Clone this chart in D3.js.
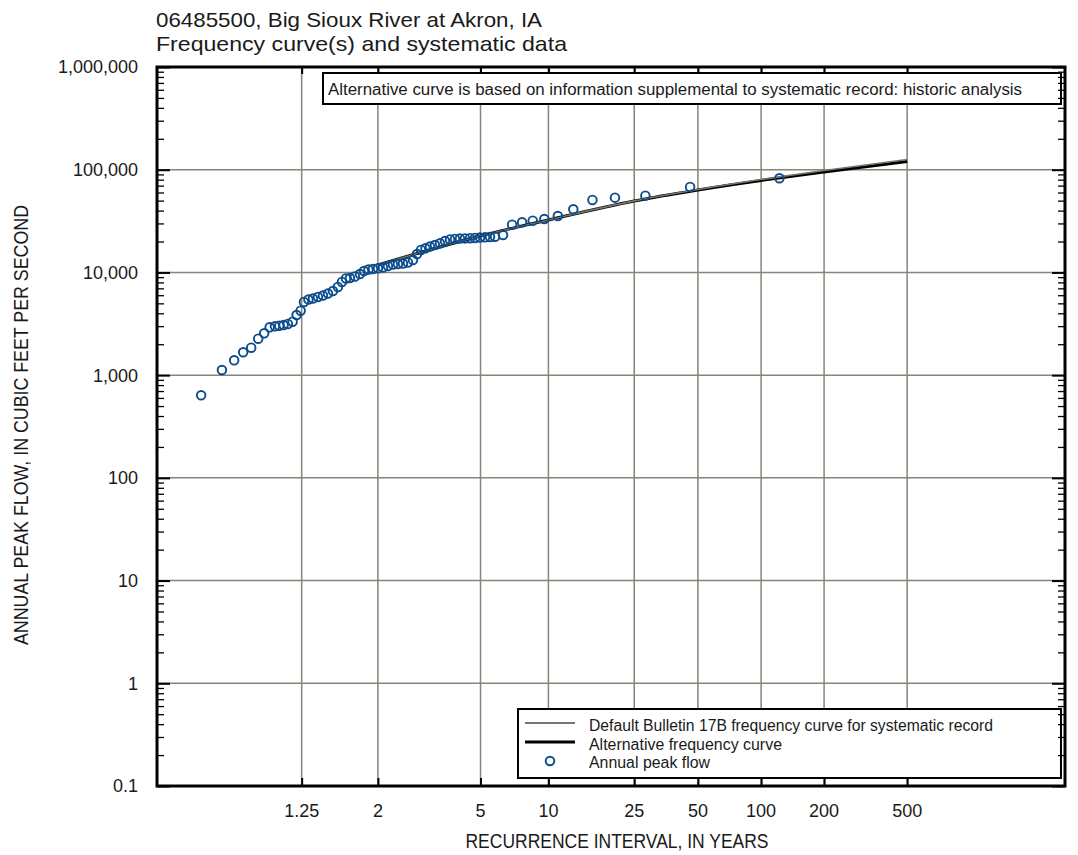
<!DOCTYPE html>
<html>
<head>
<meta charset="utf-8">
<script src="https://cdn.jsdelivr.net/npm/d3@7"></script>
<style>
  html, body { margin: 0; padding: 0; background: #ffffff; }
  svg text { font-family: "Liberation Sans Narrow", "Liberation Sans", Arial, sans-serif; fill: #1a1a1a; }
</style>
</head>
<body>
<script>
// ---------------- DATA ----------------
const titleLines = ["06485500, Big Sioux River at Akron, IA", "Frequency curve(s) and systematic data"];
const noteText = "Alternative curve is based on information supplemental to systematic record: historic analysis";
const xAxisTitle = "RECURRENCE INTERVAL, IN YEARS";
const yAxisTitle = "ANNUAL PEAK FLOW, IN CUBIC FEET PER SECOND";

// x axis ticks (recurrence interval, years)
const xTickValues = [1.25, 2, 5, 10, 25, 50, 100, 200, 500];
const xTickLabels = ["1.25", "2", "5", "10", "25", "50", "100", "200", "500"];
// y axis ticks (cubic feet per second)
const yTickValues = [0.1, 1, 10, 100, 1000, 10000, 100000, 1000000];
const yTickLabels = ["0.1", "1", "10", "100", "1,000", "10,000", "100,000", "1,000,000"];

// annual peak flow: recurrence interval (years) and flow (cfs)
const peakInterval = [
  1.0076, 1.021, 1.0348, 1.0486, 1.064, 1.0801, 1.096, 1.1124, 1.130, 1.1456, 1.163, 1.1813, 1.2031, 1.223, 1.2443,
  1.2628, 1.2897, 1.3182, 1.3525, 1.3891, 1.4286, 1.4706, 1.5156, 1.554, 1.5944, 1.6367, 1.693, 1.7525, 1.803, 1.863, 1.9265, 2.0008, 2.0794, 2.163, 2.252, 2.3464,
  2.446, 2.552, 2.664, 2.759, 2.858, 2.974, 3.097, 3.24, 3.393, 3.554, 3.726, 3.905, 4.095, 4.297, 4.511, 4.737, 4.975, 5.227, 5.494, 5.777, 6.262,
  6.864, 7.604, 8.489, 9.58, 11.04, 13.0, 15.94, 20.3, 28.2, 45.9, 122.3
];
const peakFlow = [
  637, 1122, 1395, 1670, 1851, 2265, 2556, 2924, 2990, 3031, 3079, 3149, 3315, 3852, 4242,
  5157, 5452, 5577, 5768, 5965, 6238, 6597, 7219, 8074, 8733, 8830, 9133, 9658, 10330, 10680, 10800, 10975, 11170, 11560, 11950, 12080,
  12220, 12500, 13220, 15120, 16550, 17180, 17890, 18500, 19220, 20240, 20940, 21200, 21350, 21450, 21550, 21650, 21890, 21950, 22140, 22290, 23150,
  29170, 30800, 31900, 33140, 35450, 41180, 50750, 53450, 55900, 67920, 82540
];

// frequency curves
const curveInterval = [2, 5, 10, 25, 50, 100, 200, 500];
const defaultCurveFlow = [11820, 22640, 32410, 49700, 64230, 80350, 98300, 125800];
const alternativeCurveFlow = [11820, 22640, 32410, 49620, 63500, 78600, 95080, 120300];

const legendLabels = ["Default Bulletin 17B frequency curve for systematic record", "Alternative frequency curve", "Annual peak flow"];

// ---------------- LAYOUT ----------------
const W = 1078, H = 855;
const L = 157, R = 1065, T = 67, B = 786;
const gridColor = "#86857a";
const pointColor = "#0b4c8c";

// Gumbel reduced variate of an exceedance probability
const gum = p => -Math.log(-Math.log(1 - p));
const xg = d3.scaleLinear().domain([gum(0.99965), gum(0.00035)]).range([L, R]);
const xT = t => xg(gum(1 / t));
const y = d3.scaleLog().domain([0.1, 1e6]).range([B, T]);

const svg = d3.select("body").append("svg").attr("width", W).attr("height", H);
svg.append("rect").attr("width", W).attr("height", H).attr("fill", "#fff");

// titles
svg.append("text").attr("x", 156).attr("y", 27).attr("font-size", 21)
  .attr("textLength", 386).attr("lengthAdjust", "spacingAndGlyphs").text(titleLines[0]);
svg.append("text").attr("x", 156).attr("y", 51).attr("font-size", 21)
  .attr("textLength", 411).attr("lengthAdjust", "spacingAndGlyphs").text(titleLines[1]);

// gridlines
const gridG = svg.append("g");
gridG.selectAll("line.vx").data(xTickValues).join("line")
  .attr("x1", d => xT(d)).attr("x2", d => xT(d)).attr("y1", T).attr("y2", B)
  .attr("stroke", gridColor).attr("stroke-width", 1.5);
gridG.selectAll("line.hy").data(yTickValues.slice(1, -1)).join("line")
  .attr("x1", L).attr("x2", R).attr("y1", d => y(d)).attr("y2", d => y(d))
  .attr("stroke", gridColor).attr("stroke-width", 1.5);

// curves
const lineGen = (flows) => d3.line()
  .x((d, i) => xT(curveInterval[i]))
  .y((d) => y(d))
  .curve(d3.curveMonotoneX)(flows);
svg.append("path").attr("d", lineGen(alternativeCurveFlow))
  .attr("fill", "none").attr("stroke", "#000").attr("stroke-width", 3);
svg.append("path").attr("d", lineGen(defaultCurveFlow))
  .attr("fill", "none").attr("stroke", "#77776c").attr("stroke-width", 1.6);

// points
svg.append("g").selectAll("circle").data(peakFlow).join("circle")
  .attr("cx", (d, i) => xT(peakInterval[i])).attr("cy", d => y(d)).attr("r", 4.3)
  .attr("fill", "none").attr("stroke", pointColor).attr("stroke-width", 1.9);

// top note box
svg.append("rect").attr("x", 323).attr("y", 73).attr("width", 1061 - 323).attr("height", 31)
  .attr("fill", "#fff").attr("stroke", "#000").attr("stroke-width", 2);
svg.append("text").attr("x", 328).attr("y", 95).attr("font-size", 16)
  .attr("textLength", 694).attr("lengthAdjust", "spacingAndGlyphs").text(noteText);

// legend box
const lg = svg.append("g");
lg.append("rect").attr("x", 518).attr("y", 709).attr("width", 1061 - 518).attr("height", 69)
  .attr("fill", "#fff").attr("stroke", "#000").attr("stroke-width", 2);
lg.append("line").attr("x1", 525).attr("x2", 575).attr("y1", 723).attr("y2", 723)
  .attr("stroke", "#77776c").attr("stroke-width", 2);
lg.append("line").attr("x1", 525).attr("x2", 575).attr("y1", 742).attr("y2", 742)
  .attr("stroke", "#000").attr("stroke-width", 3);
lg.append("circle").attr("cx", 550).attr("cy", 761).attr("r", 4.3)
  .attr("fill", "none").attr("stroke", pointColor).attr("stroke-width", 1.9);
const legendW = [404, 193, 121];
const legendY = [731, 750, 768];
legendLabels.forEach((t, i) => {
  lg.append("text").attr("x", 589).attr("y", legendY[i]).attr("font-size", 16)
    .attr("textLength", legendW[i]).attr("lengthAdjust", "spacingAndGlyphs").text(t);
});

// ticks
const minorVals = [];
for (let e = -1; e < 6; e++) for (let k = 2; k <= 9; k++) minorVals.push(k * Math.pow(10, e));
function styleAxis(g, w) {
  g.select(".domain").remove();
  g.selectAll(".tick line").attr("stroke", "#000").attr("stroke-width", w);
  g.selectAll(".tick text").remove();
}
svg.append("g").attr("transform", `translate(${L},0)`)
  .call(d3.axisRight(y).tickValues(yTickValues).tickSize(13)).call(g => styleAxis(g, 2));
svg.append("g").attr("transform", `translate(${L},0)`)
  .call(d3.axisRight(y).tickValues(minorVals).tickSize(7)).call(g => styleAxis(g, 1.3));
svg.append("g").attr("transform", `translate(${R},0)`)
  .call(d3.axisLeft(y).tickValues(yTickValues).tickSize(13)).call(g => styleAxis(g, 2));
svg.append("g").attr("transform", `translate(${R},0)`)
  .call(d3.axisLeft(y).tickValues(minorVals).tickSize(7)).call(g => styleAxis(g, 1.3));
const xgTicks = xTickValues.map(t => gum(1 / t));
svg.append("g").attr("transform", `translate(0,${B})`)
  .call(d3.axisTop(xg).tickValues(xgTicks).tickSize(8)).call(g => styleAxis(g, 2));
svg.append("g").attr("transform", `translate(0,${T})`)
  .call(d3.axisBottom(xg).tickValues(xgTicks).tickSize(7)).call(g => styleAxis(g, 2));

// frame
svg.append("rect").attr("x", L).attr("y", T).attr("width", R - L).attr("height", B - T)
  .attr("fill", "none").attr("stroke", "#000").attr("stroke-width", 3);

// tick labels
svg.append("g").selectAll("text").data(yTickValues).join("text")
  .attr("x", 138).attr("y", d => y(d)).attr("dy", "0.36em").attr("text-anchor", "end")
  .attr("font-size", 18).text((d, i) => yTickLabels[i]);
svg.append("g").selectAll("text").data(xTickValues).join("text")
  .attr("x", d => xT(d)).attr("y", 817).attr("text-anchor", "middle")
  .attr("font-size", 18).text((d, i) => xTickLabels[i]);

// axis titles
svg.append("text").attr("x", 617).attr("y", 848).attr("text-anchor", "middle").attr("font-size", 21)
  .attr("textLength", 303).attr("lengthAdjust", "spacingAndGlyphs").text(xAxisTitle);
svg.append("text").attr("transform", "translate(28,425) rotate(-90)").attr("text-anchor", "middle")
  .attr("font-size", 21).attr("textLength", 440).attr("lengthAdjust", "spacingAndGlyphs").text(yAxisTitle);
</script>
</body>
</html>
